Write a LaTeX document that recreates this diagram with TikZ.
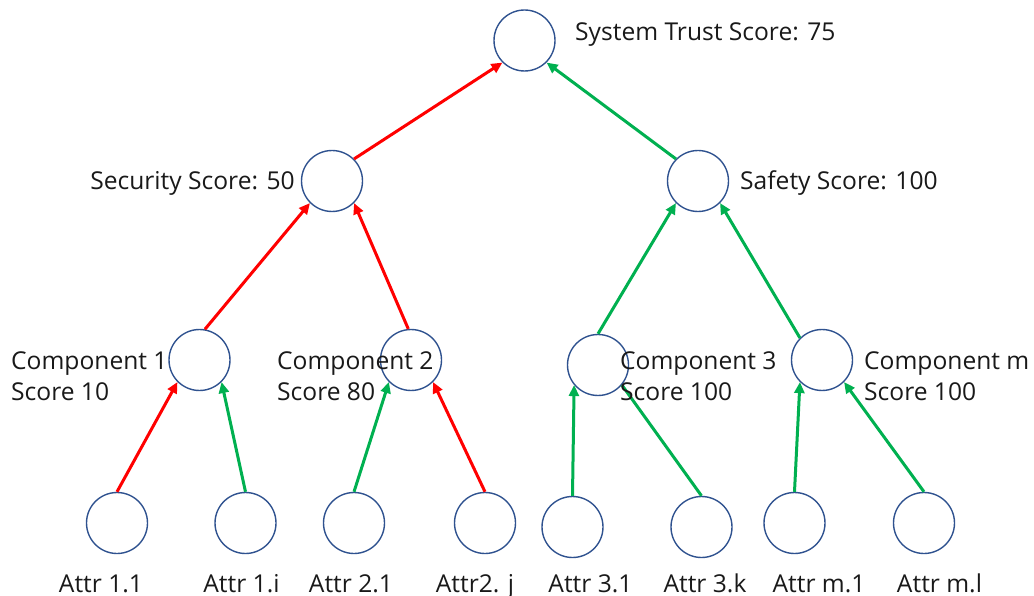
\documentclass[tikz,border=0pt]{standalone}
\usepackage{fontspec}
\setmainfont{Open Sans}
\usetikzlibrary{arrows.meta}
\definecolor{ringblue}{RGB}{47,82,143}
\definecolor{linkred}{RGB}{255,0,0}
\definecolor{linkgreen}{RGB}{0,176,80}
\tikzset{
  ball/.style={circle, draw=ringblue, line width=1.4pt, minimum size=61pt, inner sep=0pt, fill=none},
  lbl/.style={font=\fontsize{24.6}{31}\selectfont, inner sep=0pt, align=left, text=black!90},
  bad/.style={draw=linkred, line width=3pt, -{Triangle[length=11pt,width=10pt]}},
  good/.style={draw=linkgreen, line width=3pt, -{Triangle[length=11pt,width=10pt]}},
  goodplain/.style={draw=linkgreen, line width=3pt},
}
\begin{document}
\begin{tikzpicture}[x=1pt,y=-1pt]
\useasboundingbox (0,0) rectangle (1034,596);

% tree nodes
\node[ball] (top) at (524.5,40.5) {};
\node[ball] (sec) at (332,181) {};
\node[ball] (saf) at (698,181) {};
\node[ball] (c1) at (199.5,360) {};
\node[ball] (c2) at (411,360) {};
\node[ball] (c3) at (598,365) {};
\node[ball] (cm) at (822,360) {};
\node[ball] (a11) at (117,523) {};
\node[ball] (a1i) at (245.5,523) {};
\node[ball] (a21) at (354,523) {};
\node[ball] (a2j) at (485,523) {};
\node[ball] (a31) at (572.5,527) {};
\node[ball] (a3k) at (701.5,527) {};
\node[ball] (am1) at (794.5,523) {};
\node[ball] (aml) at (924,523) {};

% score links, child to parent
\draw[bad]  (sec.45)  -- (top.225);
\draw[good] (saf.135) -- (top.-45);
\draw[bad]  (c1.80)   -- (sec.225);
\draw[bad]  (c2.95)   -- (sec.-45);
\draw[good] (c3.90)   -- (saf.225);
\draw[good] (cm.135)  -- (saf.-45);
\draw[bad]  (a11.north) -- (c1.225);
\draw[good] (a1i.north) -- (c1.-45);
\draw[good] (a21.north) -- (c2.225);
\draw[bad]  (a2j.north) -- (c2.-45);
\draw[good] (a31.north) -- (c3.220);
\draw[goodplain] (a3k.north) -- (c3.-40);
\draw[good] (am1.north) -- (cm.225);
\draw[good] (aml.north) -- (cm.-45);

% score labels
\node[lbl, anchor=base west] (ltop) at (575,41) {System Trust Score: 75};
\node[lbl, anchor=base east] (lsec) at (295,190) {Security Score: 50};
\node[lbl, anchor=base west] (lsaf) at (740,190) {Safety Score: 100};
\node[lbl, anchor=base west] (lc1a) at (11,369) {Component 1};
\node[lbl, anchor=base west] (lc1b) at (11,400) {Score 10};
\node[lbl, anchor=base west] (lc2a) at (277,369) {Component 2};
\node[lbl, anchor=base west] (lc2b) at (277,400) {Score 80};
\node[lbl, anchor=base west] (lc3a) at (620,369) {Component 3};
\node[lbl, anchor=base west] (lc3b) at (620,400) {Score 100};
\node[lbl, anchor=base west] (lcma) at (864,369) {Component m};
\node[lbl, anchor=base west] (lcmb) at (864,400) {Score 100};

% attribute labels
\node[lbl, anchor=base] (l11) at (101,592) {Attr 1.1};
\node[lbl, anchor=base] (l1i) at (241.5,592) {Attr 1.i};
\node[lbl, anchor=base] (l21) at (351,592) {Attr 2.1};
\node[lbl, anchor=base] (l2j) at (475,592) {Attr2. j};
\node[lbl, anchor=base] (l31) at (590.5,592) {Attr 3.1};
\node[lbl, anchor=base] (l3k) at (705,592) {Attr 3.k};
\node[lbl, anchor=base] (lm1) at (819,592) {Attr m.1};
\node[lbl, anchor=base] (lml) at (939.5,592) {Attr m.l};
\end{tikzpicture}
\end{document}
